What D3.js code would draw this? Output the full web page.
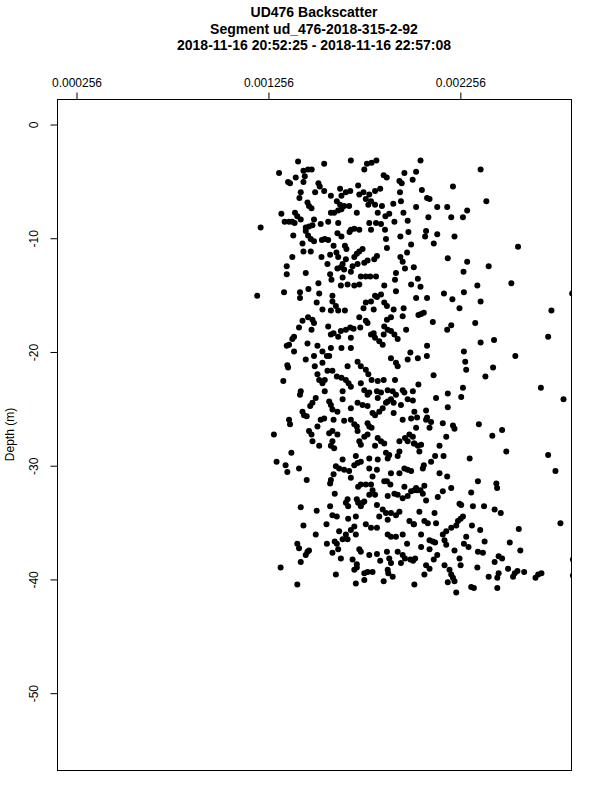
<!DOCTYPE html>
<html><head><meta charset="utf-8">
<script src="https://cdn.jsdelivr.net/npm/d3@7"></script>
<style>
body{margin:0;background:#fff}
svg{display:block;font-family:"Liberation Sans",Arial,Helvetica,sans-serif}
</style>
</head><body>
<svg id="chart" width="600" height="800"></svg>
<script>
const titleLines = ["UD476 Backscatter", "Segment ud_476-2018-315-2-92", "2018-11-16 20:52:25 - 2018-11-16 22:57:08"];
const yAxisTitle = "Depth (m)";
const xTickValues = [0.000256, 0.001256, 0.002256];
const xTickLabels = ["0.000256", "0.001256", "0.002256"];
const yTickValues = [0, -10, -20, -30, -40, -50];
const xDomain = [0.000157, 0.002835];
const yDomain = [2.2, -56.8];

// Backscatter / depth readings, grouped by depth band
const backscatterA = [
.001413,.001549,.001688,.001758,.001772,.001796,.001821,.001314,.001441,.001465,
.001484,.001448,.001401,.001361,.001371,.001441,.001519,.001526,.001859,.001875,
.001967,.001941,.001953,.001726,.001427,.001420,.001502,.001549,.001584,.001632,
.001639,.001662,.001685,.001732,.001754,.001784,.001814,.001841,.001944,.001766,
.001793,.001949,.001462,.001470,.001483,.001615,.001632,.001653,.001679,.001639,
.001622,.001601,.001584,.001779,.001814,.001850,.001909,.001719,.001828,.001868,
.001888,.001962,.001326,.001397,.001409,.001427,.001343,.001366,.001383,.001395,
.001453,.001470,.001488,.001496,.001531,.001570,.001622,.001784,.001793,.001819,
.001845,.001866,.001915,.001984,.001218,.001453,.001465,.001479,.001496,.001388,
.001537,.001552,.001570,.001618,.001639,.001688,.001706,.001732,.001681,.001871,
.001876,.001946,.001988,.001436,.001441,.001479,.001598,.001657,.001665,.001732,
.001719,.001749,.002002,.001981,.001383,.001535,.001580,.001566,.001613,.001622,
.001662,.001645,.001636,.001618,.001706,.001723,.001758,.001775,.001824,.001810,
.001946,.001958,.001970,.001354,.001354,.001453,.001580,.001587,.001653,.001697,
.001688,.001645,.001740,.001766,.001789,.001819,.001923,.001918,.002016,.002002,
.001519,.001636,.001671,.001706,.001732,.001862,.001340,.001200,.001423,.001467,
.001523,.001592,.001814,.001845,.001923,
.002051,.002028,.002364,.002010,.002220,.002058,.002085,.002098,.002394,.002028,
.002138,.002190,.002294,.002092,.002211,.002272,.002080,.002075,.002138,.002228,
.002120,.002559,.002193,.002294,.002406,.002275,.002037,.002051,.002347,.002524,
.002173,.002277,.002028,.002085,.002217,.002841];
const depthA = [
-3.3,-3.5,-3.2,-4.0,-3.5,-3.4,-3.2,-4.3,-4.1,-4.0,
-4.0,-4.6,-4.7,-5.1,-5.2,-5.1,-5.2,-5.5,-4.5,-4.7,
-4.3,-5.0,-5.2,-5.4,-6.0,-6.5,-6.0,-5.9,-6.3,-5.7,
-6.3,-6.0,-5.9,-6.2,-6.0,-6.2,-5.9,-5.7,-6.0,-6.6,
-6.8,-6.8,-6.9,-7.2,-7.4,-6.8,-7.1,-7.2,-7.2,-7.5,
-7.6,-7.8,-7.8,-7.1,-7.1,-7.2,-7.0,-7.8,-7.8,-8.1,
-7.9,-7.8,-7.9,-7.8,-8.1,-8.4,-8.6,-8.6,-8.6,-8.7,
-9.1,-9.0,-8.9,-8.4,-8.8,-8.6,-8.7,-8.7,-9.3,-8.7,
-8.8,-9.3,-8.6,-8.5,-9.1,-9.4,-9.8,-10.1,-10.3,-9.8,
-10.2,-10.1,-10.2,-9.6,-9.9,-9.3,-9.2,-9.3,-9.5,-10.1,
-10.9,-9.9,-9.5,-10.5,-11.2,-11.2,-10.7,-10.7,-11.0,-11.2,
-11.4,-11.0,-10.6,-11.3,-11.7,-11.7,-11.5,-12.3,-11.3,-11.7,
-11.9,-12.3,-12.6,-12.7,-11.7,-12.3,-12.2,-12.0,-11.6,-11.9,
-11.7,-12.1,-12.7,-12.5,-13.2,-13.1,-13.2,-13.7,-12.8,-12.5,
-13.0,-13.5,-13.4,-13.4,-13.4,-13.4,-13.1,-13.7,-12.6,-14.1,
-14.0,-14.2,-14.1,-14.2,-14.1,-14.2,-14.8,-15.1,-14.8,-14.5,
-14.9,-15.1,-15.1,-15.0,-14.7,
-3.2,-4.2,-4.0,-4.9,-5.5,-5.8,-6.5,-6.6,-6.8,-7.3,
-7.3,-7.3,-7.6,-8.2,-8.2,-8.2,-9.4,-9.9,-9.7,-9.9,
-10.5,-10.8,-11.8,-12.1,-12.5,-13.0,-13.6,-14.3,-14.2,-14.0,
-14.9,-14.8,-15.3,-15.3,-15.4,-14.9];

const backscatterB = [
.001423,.001510,.001592,.001610,.001540,.001584,.001622,.001657,.001766,.001793,
.001754,.001807,.001824,.001862,.001876,.001911,.001963,.001958,.001465,.001488,
.001496,.001436,.001418,.001483,.001570,.001598,.001622,.001584,.001636,.001662,
.001685,.001702,.001688,.001732,.001766,.001775,.001737,.001793,.001814,.001836,
.001854,.001859,.001807,.001876,.001897,.001862,.001880,.001897,.001915,.001932,
.001998,.001976,.001392,.001383,.001366,.001354,.001392,.001462,.001514,.001540,
.001584,.001639,.001575,.001563,.001688,.001453,.001496,.001500,.001357,.001361,
.001540,.001566,.001514,.001523,.001540,.001552,.001592,.001615,.001639,.001662,
.001676,.001688,.001671,.001723,.001740,.001766,.001779,.001796,.001828,.001859,
.001918,.001897,.001923,.001932,.001984,.001336,.001427,.001423,.001552,.001645,
.001740,.001758,.001775,.001784,.001824,.001845,.001828,.001880,.001906,.001923,
.001958,.001967,.001505,.001488,.001476,.001575,.001584,.001592,.001618,.001645,
.001688,.001723,.001749,.001775,.001801,.001814,.001836,.001854,.001871,.001880,
.001897,.001911,.001949,.001984,.001436,.001444,.001458,.001531,.001549,.001598,
.001653,.001688,.001706,.001719,.001775,.001784,.001796,.001911,.001958,.002002,
.001366,.001371,.001287,.001470,.001483,.001514,.001575,.001592,.001618,.001723,
.001758,.001775,.001828,.001845,.001862,.001941,.001970,.001993,.001984,.002016,
.001732,.001740,.001814,.001488,.001592,.001584,.001601,.001523,
.002254,.002733,.002040,.002054,.002068,.002115,.002211,.002190,.002336,.002716,
.002364,.002434,.002085,.002037,.002084,.002277,.002545,.002284,.002289,.002429,
.002389,.002119,.002040,.002011,.002011,.002678,.002272,.002193,.002263,.002132,
.002796,.002193,.002019,.002080,.002033,.002085,.002080,.002106,.002098,.002028,
.002167,.002220,.002228,.002355,.002476,.002425,.002011,.002185,.002019,.002037,
.002054,.002150,.002364];
const depthB = [
-15.3,-15.7,-15.6,-16.0,-16.3,-16.4,-16.4,-16.4,-15.7,-15.6,
-16.2,-16.3,-15.2,-15.7,-16.0,-16.3,-16.2,-16.9,-17.0,-17.2,
-17.5,-17.3,-17.9,-18.1,-17.8,-18.4,-18.7,-18.5,-18.2,-18.1,
-17.9,-18.0,-18.8,-17.0,-17.3,-17.5,-17.9,-18.5,-18.8,-19.1,
-19.4,-18.5,-18.4,-17.2,-17.0,-17.8,-18.1,-18.2,-18.5,-18.9,
-20.1,-18.1,-18.7,-18.9,-19.4,-19.5,-20.0,-19.3,-19.5,-20.0,
-19.7,-19.7,-20.4,-20.4,-19.7,-20.7,-20.4,-21.3,-21.2,-21.4,
-21.0,-21.7,-22.0,-22.5,-22.8,-22.5,-21.7,-22.2,-22.3,-22.5,
-22.8,-23.1,-21.3,-20.9,-21.3,-21.6,-22.0,-22.5,-22.6,-22.5,
-22.5,-20.6,-21.0,-21.3,-20.7,-22.6,-23.5,-23.8,-23.5,-23.5,
-22.8,-23.4,-23.8,-23.6,-23.5,-23.6,-24.1,-23.4,-23.5,-23.8,
-23.4,-23.6,-24.1,-24.5,-24.8,-24.4,-24.7,-25.1,-25.3,-24.2,
-25.0,-24.5,-24.7,-24.8,-25.4,-25.6,-25.3,-25.0,-24.5,-24.4,
-24.2,-24.5,-24.7,-24.2,-25.3,-25.6,-25.7,-26.0,-25.9,-26.0,
-26.1,-26.0,-26.4,-26.6,-26.3,-26.6,-26.7,-25.4,-26.0,-25.9,
-26.0,-26.4,-27.3,-27.0,-27.3,-26.6,-27.2,-27.0,-27.3,-27.0,
-27.5,-27.3,-27.6,-27.9,-28.1,-27.9,-27.6,-27.3,-27.9,-28.1,
-27.9,-28.2,-28.3,-27.9,-27.9,-28.3,-28.5,-28.3,
-16.2,-16.4,-16.8,-16.7,-16.6,-17.4,-17.7,-18.1,-17.5,-18.7,
-19.2,-19.0,-19.5,-20.6,-20.4,-20.0,-20.4,-20.9,-21.6,-21.4,
-22.2,-22.1,-22.9,-23.5,-24.3,-23.2,-23.2,-23.7,-24.0,-24.1,
-24.2,-24.9,-25.3,-25.2,-25.8,-25.8,-26.0,-26.2,-26.7,-26.7,
-26.3,-26.5,-26.8,-26.4,-26.9,-27.4,-27.5,-27.5,-28.1,-28.3,
-28.2,-28.3,-15.6];

const backscatterC = [
.001378,.001301,.001348,.001357,.001418,.001458,.001645,.001610,.001627,.001653,
.001679,.001598,.001584,.001580,.001688,.001706,.001723,.001740,.001714,.001784,
.001828,.001880,.001888,.001871,.001932,.001941,.001784,.001824,.001801,.001897,
.001941,.001967,.001984,.001876,.001894,.001862,.001726,.001740,.001766,.001793,
.001801,.001814,.001784,.001967,.001932,.001958,.001984,.002002,.002028,.001880,
.001915,.001604,.001662,.001674,.001671,.001719,.001726,.001740,.001749,.001758,
.001824,.001854,.001871,.001897,.001923,.001941,.001880,.001427,.001510,.001580,
.001592,.001615,.001674,.001714,.001836,.001993,.002016,.001441,.001561,.001627,
.001706,.001688,.001766,.001793,.001824,.001505,.001662,.001671,.001645,.001714,
.001880,.001897,.001923,.001958,.001981,.001409,.001418,.001563,.001604,.001615,
.001622,.001462,.001470,.001453,.001592,.001636,.001732,.001740,.001784,.001824,
.001876,.001888,.001841,.001932,.001958,.001970,.001998,.002023,.001949,.001427,
.001697,.001719,.001706,.001719,.001897,.001880,.001883,.001322,.001610,.001758,
.001775,.001801,.001409,.001714,.001758,.001859,.001906,
.002045,.002127,.002171,.002307,.002498,.002716,.002106,.002068,.002063,.002002,
.002150,.002190,.002754,.002350,.002446,.002450,.002071,.002051,.002033,.002019,
.002063,.002211,.002167,.002141,.002315,.002080,.002254,.002263,.002324,.002382,
.002437,.002469,.002045,.002124,.002272,.002260,.002246,.002071,.002089,.002132,
.002016,.002319,.002362,.002237,.002211,.002185,.002167,.002780,.002563,.002054,
.002098,.002115,.002127,.002176,.002289,.002277,.002301,.002385,.002516,.002054,
.002098,.002185,.002228,.002350,.002376,.002571,.002012,.002138,.002120,.002080,
.002098,.002071,.002176,.002254,.002260,.002437,.002458,.002476,.002347,.002202,
.002211,.002220,.002228,.002193,.002507,.002556,.002542,.002533,.002591,.002458,
.002451,.002406,.002664,.002681,.002650,.002019,.002237,.002315,.002329,.002451,
.002845,.002845];
const depthC = [
-28.9,-29.7,-30.0,-30.6,-30.3,-31.3,-29.5,-30.1,-30.3,-30.4,
-30.5,-30.8,-31.3,-31.6,-31.1,-30.0,-29.8,-29.7,-29.2,-29.4,
-29.5,-29.4,-29.1,-28.9,-29.2,-28.8,-30.3,-30.4,-31.0,-30.7,
-30.7,-30.3,-30.4,-31.4,-31.7,-31.4,-31.9,-31.7,-31.7,-31.7,
-32.2,-32.6,-32.6,-31.9,-32.6,-32.9,-32.7,-32.3,-32.0,-32.7,
-32.5,-32.5,-33.3,-33.6,-33.0,-33.0,-33.3,-33.6,-33.3,-33.2,
-33.5,-33.9,-34.2,-34.2,-34.4,-34.1,-34.8,-33.7,-34.0,-33.6,
-34.4,-34.5,-34.7,-34.5,-34.5,-34.9,-35.2,-35.3,-35.2,-35.8,
-35.4,-35.7,-35.2,-35.5,-35.5,-36.1,-36.1,-36.5,-36.5,-36.1,
-36.1,-36.3,-36.3,-36.1,-36.9,-36.9,-37.3,-36.9,-36.7,-36.9,
-37.4,-37.6,-37.5,-37.9,-37.7,-38.2,-37.4,-37.6,-37.9,-37.8,
-37.6,-38.2,-38.4,-37.6,-37.9,-38.2,-38.3,-38.2,-38.6,-38.5,
-38.3,-38.7,-39.2,-39.0,-38.6,-39.2,-39.5,-39.0,-39.6,-39.5,
-39.4,-39.4,-40.5,-40.4,-40.1,-40.2,-39.8,
-28.8,-29.2,-29.2,-29.4,-28.8,-29.1,-29.7,-30.0,-30.3,-30.5,
-30.7,-31.0,-30.5,-31.4,-31.6,-32.0,-31.8,-32.2,-32.2,-32.2,
-32.5,-32.0,-32.3,-32.8,-32.4,-33.1,-33.4,-33.5,-33.6,-33.6,
-33.9,-34.2,-34.1,-34.2,-34.5,-34.7,-34.9,-34.9,-35.1,-35.1,
-35.2,-35.3,-35.7,-35.3,-35.5,-35.8,-36.1,-35.1,-35.6,-36.1,
-36.6,-36.7,-36.8,-36.6,-36.3,-36.9,-37.2,-36.7,-36.8,-37.2,
-37.4,-37.0,-37.5,-37.6,-37.7,-37.5,-38.4,-37.9,-38.3,-38.8,
-39.1,-39.6,-38.8,-38.2,-38.8,-38.5,-38.0,-38.2,-39.0,-39.2,
-39.6,-39.9,-40.2,-40.3,-39.1,-39.3,-39.5,-39.8,-39.4,-39.5,
-39.9,-39.8,-39.6,-39.5,-39.9,-40.5,-41.2,-40.7,-40.8,-40.8,
-38.3,-39.7];

const backscatter = backscatterA.concat(backscatterB, backscatterC);
const depth = depthA.concat(depthB, depthC);
const points = backscatter.map((b, i) => ({b: b, d: depth[i]}));

const svg = d3.select("#chart");
const plot = {left: 57, right: 571, top: 99, bottom: 770};
const x = d3.scaleLinear().domain(xDomain).range([plot.left, plot.right]);
const y = d3.scaleLinear().domain(yDomain).range([plot.top, plot.bottom]);

// Title
svg.append("g").selectAll("text").data(titleLines).join("text")
  .attr("x", (plot.left + plot.right) / 2)
  .attr("y", (d, i) => 17 + i * 16.5)
  .attr("text-anchor", "middle")
  .attr("font-size", 14).attr("font-weight", "bold")
  .text(d => d);

// Clip
svg.append("defs").append("clipPath").attr("id", "clip")
  .append("rect").attr("x", plot.left).attr("y", plot.top)
  .attr("width", plot.right - plot.left).attr("height", plot.bottom - plot.top);

// Points
svg.append("g").attr("clip-path", "url(#clip)")
  .selectAll("circle").data(points).join("circle")
  .attr("cx", d => x(d.b)).attr("cy", d => y(d.d))
  .attr("r", 3).attr("fill", "#000");

// Box
svg.append("rect")
  .attr("x", plot.left + 0.5).attr("y", plot.top + 0.5)
  .attr("width", plot.right - plot.left).attr("height", plot.bottom - plot.top)
  .attr("fill", "none").attr("stroke", "#000").attr("stroke-width", 1);

// Top axis
const xAxis = d3.axisTop(x).tickValues(xTickValues)
  .tickFormat((d, i) => xTickLabels[i]).tickSize(7).tickPadding(6);
const gx = svg.append("g").attr("transform", `translate(0.5,${plot.top + 0.5})`).call(xAxis);
gx.select(".domain").remove();
gx.selectAll("text").attr("font-size", 12).attr("font-family", null).attr("fill", "#000");
gx.selectAll("line").attr("stroke", "#000");

// Left axis
const yAxis = d3.axisLeft(y).tickValues(yTickValues).tickFormat(d => String(d)).tickSize(7);
const gy = svg.append("g").attr("transform", `translate(${plot.left + 0.5},0.5)`).call(yAxis);
gy.select(".domain").remove();
gy.selectAll("line").attr("stroke", "#000");
gy.selectAll("text")
  .attr("font-size", 12).attr("font-family", null).attr("fill", "#000")
  .attr("x", 0).attr("y", -20).attr("dy", null)
  .attr("text-anchor", "middle")
  .attr("transform", "rotate(-90)");

// Y axis title
svg.append("text")
  .attr("transform", `translate(14,${(plot.top + plot.bottom) / 2}) rotate(-90)`)
  .attr("text-anchor", "middle").attr("font-size", 12)
  .text(yAxisTitle);
</script>
</body></html>
